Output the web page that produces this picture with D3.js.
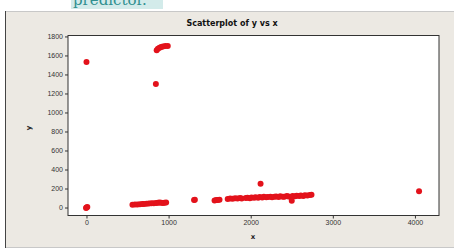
<!DOCTYPE html>
<meta charset="utf-8">
<style>
body { margin: 0; background: #fff; }
svg { display: block; font-family: "DejaVu Sans", sans-serif; }
.axis text { font-size: 7px; fill: #333; }
.axis path, .axis line { stroke: #333; }
</style>
<body>
<svg width="454" height="251"></svg>
<script src="https://d3js.org/d3.v7.min.js"></script>
<script>
// values
var xs = [0, 10, -5, 0, 845,
  855, 870, 890, 910, 930, 960, 990,
  560, 590, 620, 650, 680, 700, 730, 760, 790, 820, 850, 870, 890, 910, 930, 950, 970,
  1310, 1320,
  1560, 1580, 1600, 1620,
  1720, 1750, 1780, 1810, 1840, 1870, 1890,
  1940, 1960, 1990, 2010, 2040, 2060, 2090, 2110, 2140, 2160, 2190, 2210, 2240, 2260,
  2290, 2310, 2340, 2360, 2390, 2410, 2440, 2460, 2490, 2510, 2540, 2560, 2590, 2610,
  2640, 2660, 2690, 2720, 2740,
  2120, 2500, 4050];
var ys = [0, 5, -5, 1530, 1300,
  1655, 1670, 1680, 1690, 1695, 1700, 1700,
  30, 32, 33, 34, 36, 38, 40, 42, 44, 46, 48, 50, 52, 50, 48, 50, 52,
  78, 82,
  75, 80, 78, 82,
  90, 95, 92, 98, 96, 100, 95,
  100, 104, 98, 106, 102, 108, 104, 110, 106, 112, 108, 110, 114, 108,
  112, 116, 110, 118, 114, 112, 120, 116, 110, 122, 118, 124, 120, 126,
  122, 130, 126, 132, 135,
  250, 70, 170];
var xTicks = [0, 1000, 2000, 3000, 4000];
var yTicks = [0, 200, 400, 600, 800, 1000, 1200, 1400, 1600, 1800];

var svg = d3.select("svg");

// cut-off line of text above the figure, with its highlight
svg.append("rect").attr("x", 71).attr("y", 0).attr("width", 92).attr("height", 9).attr("fill", "#d3ebea");
svg.append("text")
    .attr("x", 73).attr("y", 5)
    .style("font", "15px 'DejaVu Serif', serif")
    .attr("fill", "#2f8f8f")
    .text("predictor.");

// frame
svg.append("rect")
    .attr("x", 5.5).attr("y", 11.5).attr("width", 452).attr("height", 236)
    .attr("fill", "#ece9e3").attr("stroke", "#c8c8c8");
svg.append("line").attr("x1", 5.5).attr("x2", 5.5).attr("y1", 11).attr("y2", 248).attr("stroke", "#444");

var pl = 68, pr = 439, pt = 35.5, pb = 215.5;
var x = d3.scaleLinear().domain([-225, 4293]).range([pl, pr]);
var y = d3.scaleLinear().domain([-84, 1810]).range([pb, pt]);

svg.append("rect")
    .attr("x", pl).attr("y", pt).attr("width", pr - pl).attr("height", pb - pt)
    .attr("fill", "#fff").attr("stroke", "#333");

svg.append("g").attr("class", "axis")
    .attr("transform", "translate(0," + pb + ")")
    .call(d3.axisBottom(x).tickValues(xTicks).tickFormat(d3.format("d")).tickSize(3).tickPadding(2).tickSizeOuter(0))
    .select(".domain").remove();

svg.append("g").attr("class", "axis")
    .attr("transform", "translate(" + pl + ",0)")
    .call(d3.axisLeft(y).tickValues(yTicks).tickFormat(d3.format("d")).tickSize(3).tickPadding(2).tickSizeOuter(0))
    .select(".domain").remove();

svg.append("text")
    .attr("x", 232).attr("y", 26)
    .attr("text-anchor", "middle")
    .style("font", "bold 8px 'DejaVu Sans', sans-serif")
    .attr("fill", "#111")
    .text("Scatterplot of y vs x");

svg.append("text")
    .attr("x", 253).attr("y", 239)
    .attr("text-anchor", "middle")
    .style("font", "bold 7px 'DejaVu Sans', sans-serif")
    .attr("fill", "#222")
    .text("x");

svg.append("text")
    .attr("transform", "translate(31,128) rotate(-90)")
    .attr("text-anchor", "middle")
    .style("font", "bold 7px 'DejaVu Sans', sans-serif")
    .attr("fill", "#222")
    .text("y");

svg.append("g").selectAll("circle")
    .data(d3.range(xs.length))
    .enter().append("circle")
      .attr("cx", function(i) { return x(xs[i]); })
      .attr("cy", function(i) { return y(ys[i]); })
      .attr("r", 3)
      .attr("fill", "#e3121b");
</script>
</body>
